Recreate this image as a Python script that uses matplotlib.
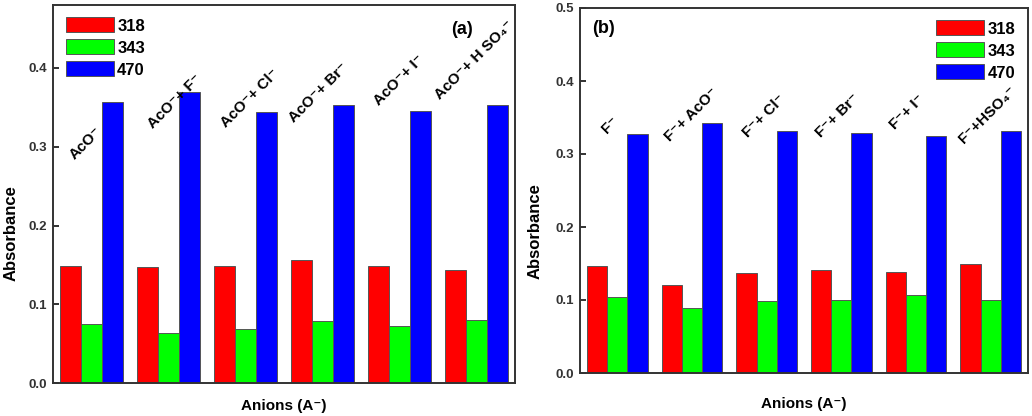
import numpy as np
import matplotlib.pyplot as plt
from matplotlib.patches import Patch

plt.rcParams['font.family'] = ['Liberation Sans', 'DejaVu Sans']
plt.rcParams['font.weight'] = 'bold'

# Dữ liệu
series = ['318', '343', '470']
colors = ['#ff0000', '#00ff00', '#0000ff']

labels_a = ['AcO⁻', 'AcO⁻+ F⁻', 'AcO⁻+ Cl⁻', 'AcO⁻+ Br⁻', 'AcO⁻+ I⁻', 'AcO⁻+ H SO₄⁻']
a_318 = [0.148, 0.147, 0.148, 0.156, 0.149, 0.143]
a_343 = [0.075, 0.064, 0.069, 0.079, 0.073, 0.080]
a_470 = [0.357, 0.369, 0.344, 0.353, 0.345, 0.353]

labels_b = ['F⁻', 'F⁻+ AcO⁻', 'F⁻+ Cl⁻', 'F⁻+ Br⁻', 'F⁻+ I⁻', 'F⁻+HSO₄⁻']
b_318 = [0.147, 0.120, 0.137, 0.141, 0.139, 0.150]
b_343 = [0.104, 0.089, 0.099, 0.100, 0.107, 0.100]
b_470 = [0.327, 0.342, 0.332, 0.329, 0.325, 0.332]

# vị trí nhãn xoay (toạ độ dữ liệu)
lab_pos_a = [(0.92, 0.305), (2.08, 0.357), (3.06, 0.361), (3.95, 0.369), (4.99, 0.385), (5.97, 0.41)]
lab_pos_b = [(0.91, 0.339), (1.99, 0.354), (2.96, 0.352), (3.95, 0.352), (4.88, 0.357), (5.96, 0.354)]

fig = plt.figure(figsize=(10.32, 4.16), dpi=100)
ax_a = fig.add_axes([53 / 1032, 1 - 383 / 416, (515 - 53) / 1032, (383 - 5) / 416])
ax_b = fig.add_axes([580 / 1032, 1 - 373 / 416, (1028 - 580) / 1032, (373 - 8) / 416])

x = np.arange(1, 7)
w = 0.27


def draw(ax, vals, labels, lab_pos, ylim, yticks, tag, tag_xy, legend_loc, xpad):
    for i, (v, c) in enumerate(zip(vals, colors)):
        ax.bar(x + (i - 1) * w, v, w, color=c, edgecolor='#555555', linewidth=0.7, zorder=2)
    for lab, (px, py) in zip(labels, lab_pos):
        ax.text(px, py, lab, rotation=45, ha='center', va='center', fontsize=11, fontweight='bold')
    ax.set_xlim(0.5, 6.5)
    ax.set_ylim(*ylim)
    ax.set_yticks(yticks)
    ax.set_yticklabels(['%.1f' % t for t in yticks])
    ax.set_xticks(x)
    ax.set_xticklabels([])
    ax.tick_params(axis='both', direction='in', length=4, width=1.3, colors='#222222',
                   labelsize=9.5, labelcolor='#333333', pad=4)
    for s in ax.spines.values():
        s.set_linewidth(1.4)
        s.set_color('#333333')
    ax.set_ylabel('Absorbance', fontsize=12, fontweight='bold')
    ax.set_xlabel('Anions (A⁻)', fontsize=11, fontweight='bold', labelpad=xpad)
    ax.text(tag_xy[0], tag_xy[1], tag, transform=ax.transAxes, fontsize=13, fontweight='bold',
            ha='center', va='center')
    handles = [Patch(facecolor=c, edgecolor='#555555', linewidth=0.7) for c in colors]
    ax.legend(handles, series, loc=legend_loc, frameon=False, fontsize=12, handlelength=2.9,
              handleheight=1.0, labelspacing=0.35, handletextpad=0.2, borderaxespad=0.35)


draw(ax_a, [a_318, a_343, a_470], labels_a, lab_pos_a, (0, 0.48), [0.0, 0.1, 0.2, 0.3, 0.4],
     '(a)', (0.885, 0.934), 'upper left', 7.5)
draw(ax_b, [b_318, b_343, b_470], labels_b, lab_pos_b, (0, 0.5), [0.0, 0.1, 0.2, 0.3, 0.4, 0.5],
     '(b)', (0.052, 0.945), 'upper right', 13)
ax_a.yaxis.set_label_coords(-0.074, 0.397)
ax_b.yaxis.set_label_coords(-0.083, 0.39)

plt.savefig('out.png', dpi=100)
